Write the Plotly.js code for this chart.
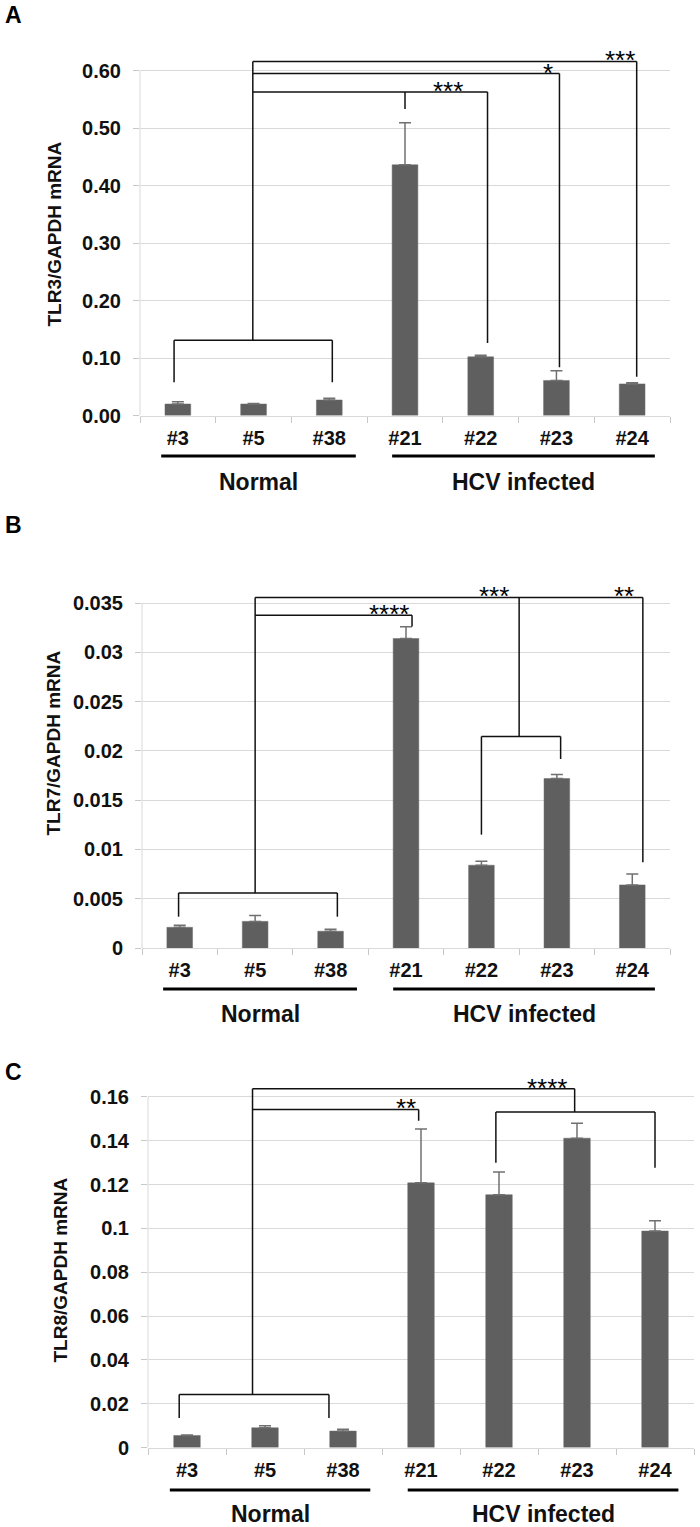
<!DOCTYPE html>
<html>
<head>
<meta charset="utf-8">
<script src="https://cdn.plot.ly/plotly-3.0.1.min.js"></script>
<style>
  body { margin: 0; background: #fff; }
  #plot { width: 700px; height: 1527px; }
</style>
</head>
<body>
<div id="plot"></div>
<script>
// samples on the x axis (same for all three panels)
var samples = ["#3", "#5", "#38", "#21", "#22", "#23", "#24"];

// A - TLR3
var tlr3 = [0.020, 0.020, 0.027, 0.436, 0.102, 0.061, 0.055];
var tlr3Err = [0.004, 0.001, 0.003, 0.073, 0.003, 0.017, 0.002];

// B - TLR7
var tlr7 = [0.0021, 0.0027, 0.0017, 0.0314, 0.0084, 0.0172, 0.0064];
var tlr7Err = [0.0002, 0.0006, 0.0002, 0.0012, 0.0004, 0.0004, 0.0011];

// C - TLR8
var tlr8 = [0.0055, 0.0090, 0.0075, 0.1208, 0.1154, 0.1412, 0.0988];
var tlr8Err = [0.0002, 0.0009, 0.0008, 0.0246, 0.0104, 0.0068, 0.0047];

var groups = ["Normal", "HCV infected"];

// significance brackets: [category index, value] polylines + star labels
var bracketsA = [
  [[-0.05, 0.058], [-0.05, 0.131], [2.04, 0.131], [2.04, 0.058]],
  [[0.99, 0.131], [0.99, 0.6157]],
  [[0.99, 0.6157], [6.06, 0.6157], [6.06, 0.0675]],
  [[0.99, 0.5947], [5.04, 0.5947], [5.04, 0.084]],
  [[0.99, 0.5626], [4.09, 0.5626], [4.09, 0.126]],
  [[3.0, 0.5626], [3.0, 0.533]]
];
var starsA = [[5.84, 0.6157, "***"], [4.89, 0.5947, "*"], [3.57, 0.5626, "***"]];

var bracketsB = [
  [[-0.015, 0.00318], [-0.015, 0.00558], [2.09, 0.00558], [2.09, 0.00318]],
  [[1.0, 0.00558], [1.0, 0.03557]],
  [[1.0, 0.03557], [6.14, 0.03557], [6.14, 0.00869]],
  [[1.0, 0.03375], [3.08, 0.03375], [3.08, 0.03263]],
  [[4.0, 0.0115], [4.0, 0.02147], [5.05, 0.02147], [5.05, 0.01917]],
  [[4.5, 0.02147], [4.5, 0.03557]]
];
var starsB = [[2.78, 0.03375, "****"], [4.17, 0.03557, "***"], [5.89, 0.03557, "**"]];

var bracketsC = [
  [[-0.1, 0.0135], [-0.1, 0.0242], [1.82, 0.0242], [1.82, 0.0135]],
  [[0.84, 0.0242], [0.84, 0.1638]],
  [[0.84, 0.1638], [4.97, 0.1638], [4.97, 0.1531]],
  [[0.84, 0.1543], [2.97, 0.1543], [2.97, 0.1492]],
  [[3.96, 0.130], [3.96, 0.1531], [6.0, 0.1531], [6.0, 0.1277]]
];
var starsC = [[4.62, 0.1638, "****"], [2.81, 0.1543, "**"]];

var W = 700, H = 1527;
function px(x) { return x / W; }
function py(y) { return 1 - y / H; }

var FONT = "Liberation Sans, Arial, sans-serif";
var GRID = "#d9d9d9";

// page layout of the three panels, in pixels
var panels = [
  { x: "x", y: "y", vals: tlr3, err: tlr3Err, left: 140, right: 670, top: 47.5, bottom: 415.5,
    range: [0, 0.64], dtick: 0.1, fmt: ".2f", axisTop: 0.6, letter: "A", letterY: 15,
    title: "TLR3/GAPDH mRNA", titleX: 54, titleY: 234.5, lineY: 456, groupY: 481.5,
    brackets: bracketsA, stars: starsA },
  { x: "x2", y: "y2", vals: tlr7, err: tlr7Err, left: 142, right: 670, top: 578.4, bottom: 948,
    range: [0, 0.0375], dtick: 0.005, fmt: "", axisTop: 0.035, letter: "B", letterY: 525,
    title: "TLR7/GAPDH mRNA", titleX: 52.5, titleY: 743, lineY: 989, groupY: 1014,
    brackets: bracketsB, stars: starsB },
  { x: "x3", y: "y3", vals: tlr8, err: tlr8Err, left: 148, right: 694, top: 1070.7, bottom: 1447.5,
    range: [0, 0.172], dtick: 0.02, fmt: "", axisTop: 0.16, letter: "C", letterY: 1072,
    title: "TLR8/GAPDH mRNA", titleX: 60, titleY: 1270.5, lineY: 1490, groupY: 1514,
    brackets: bracketsC, stars: starsC }
];

var data = [];
var layout = {
  width: W, height: H,
  margin: { l: 0, r: 0, t: 0, b: 0 },
  paper_bgcolor: "#fff", plot_bgcolor: "#fff",
  showlegend: false,
  bargap: 0.66,
  shapes: [],
  annotations: []
};

panels.forEach(function (p, k) {
  var sfx = k === 0 ? "" : String(k + 1);
  data.push({
    type: "bar", x: samples, y: p.vals, xaxis: p.x, yaxis: p.y,
    marker: { color: "#5f5f5f", line: { color: "#6a6a6a", width: 0.5 } },
    error_y: { type: "data", array: p.err, arrayminus: p.err.map(function () { return 0; }),
      symmetric: false, color: "#707070", thickness: 1.5, width: 6 },
    hoverinfo: "skip"
  });

  layout["xaxis" + sfx] = {
    domain: [px(p.left), px(p.right)], anchor: p.y, type: "category",
    showgrid: false, zeroline: false,
    showline: true, linecolor: GRID, linewidth: 1,
    ticks: "outside", tickson: "boundaries", ticklen: 6, tickcolor: "#c8c8c8",
    ticklabelstandoff: 4,
    tickfont: { family: FONT, size: 20, weight: "bold", color: "#111" },
    fixedrange: true
  };
  layout["yaxis" + sfx] = {
    domain: [py(p.bottom), py(p.top)], anchor: p.x,
    range: p.range, dtick: p.dtick, tick0: 0, tickformat: p.fmt,
    showgrid: true, gridcolor: GRID, gridwidth: 1, zeroline: false, showline: false,
    ticks: "outside", ticklen: 6, tickcolor: "#c8c8c8", ticklabelstandoff: 8,
    tickfont: { family: FONT, size: 20, weight: "bold", color: "#111" },
    fixedrange: true
  };

  // left axis line stops at the top tick
  layout.shapes.push({ type: "line", xref: "paper", yref: p.y, x0: px(p.left), x1: px(p.left),
    y0: 0, y1: p.axisTop, line: { color: GRID, width: 1 } });

  // significance brackets
  p.brackets.forEach(function (pts) {
    for (var i = 0; i < pts.length - 1; i++) {
      layout.shapes.push({ type: "line", xref: p.x, yref: p.y,
        x0: pts[i][0], y0: pts[i][1], x1: pts[i + 1][0], y1: pts[i + 1][1],
        line: { color: "#111", width: 1.5 } });
    }
  });
  p.stars.forEach(function (s) {
    layout.annotations.push({ xref: p.x, yref: p.y, x: s[0], y: s[1], text: s[2],
      showarrow: false, xanchor: "center", yanchor: "middle", yshift: 1,
      font: { family: FONT, size: 26, color: "#000" } });
  });

  // group underlines and labels
  [[-0.22, 2.35], [2.83, 6.3]].forEach(function (g, j) {
    layout.shapes.push({ type: "line", xref: p.x, yref: "paper",
      x0: g[0], x1: g[1], y0: py(p.lineY), y1: py(p.lineY),
      line: { color: "#000", width: 3 } });
    layout.annotations.push({ xref: p.x, yref: "paper", x: (g[0] + g[1]) / 2, y: py(p.groupY),
      text: groups[j], showarrow: false, xanchor: "center", yanchor: "middle",
      font: { family: FONT, size: 23, weight: "bold", color: "#111" } });
  });

  // panel letter and y title
  layout.annotations.push({ xref: "paper", yref: "paper", x: px(13), y: py(p.letterY),
    text: p.letter, showarrow: false, xanchor: "center", yanchor: "middle",
    font: { family: FONT, size: 23, weight: "bold", color: "#000" } });
  layout.annotations.push({ xref: "paper", yref: "paper", x: px(p.titleX), y: py(p.titleY),
    text: p.title, textangle: -90, showarrow: false, xanchor: "center", yanchor: "middle",
    font: { family: FONT, size: 19, weight: "bold", color: "#111" } });
});

Plotly.newPlot("plot", data, layout, { staticPlot: true });
</script>
</body>
</html>
